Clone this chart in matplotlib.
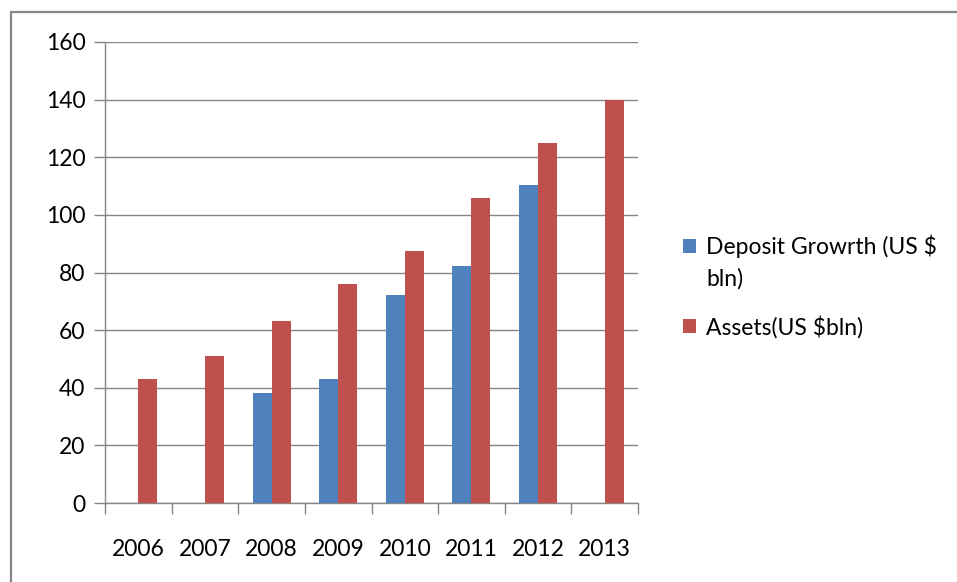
# Deposit growth vs assets bar chart (Excel style)

import numpy as np
import matplotlib.pyplot as plt
from matplotlib.patches import Rectangle

years = ['2006', '2007', '2008', '2009', '2010', '2011', '2012', '2013']
deposit = [np.nan, np.nan, 38.3, 43.1, 72.1, 82.4, 110.4, np.nan]
assets = [43.1, 51.1, 63.2, 76.0, 87.3, 105.9, 125.0, 140.0]
labels = ['Deposit Growrth (US $', 'Assets(US $bln)']
wrap = 'bln)'  # second line of the first legend label

plt.rcParams['font.family'] = ['Lato', 'DejaVu Sans']

fig = plt.figure(figsize=(9.57, 5.82), dpi=100)
ax = fig.add_axes([105/957, 1-503/582, (638-105)/957, (503-42)/582])

x = np.arange(len(years))
w = 1/3.5
ax.bar(x - w/2, deposit, width=w, color='#4F81BD', label=labels[0], zorder=3)
ax.bar(x + w/2, assets, width=w, color='#C0504D', label=labels[1], zorder=3)

ax.set_xlim(-0.5, len(years) - 0.5)
ax.set_ylim(0, 160)
ax.set_yticks(range(0, 161, 20))
ax.set_xticks(x)
ax.set_xticklabels(years)
ax.set_xticks(np.arange(-0.5, len(years)), minor=True)
ax.tick_params(axis='x', which='major', length=0, pad=26, labelsize=16.5, colors='#000000')
ax.tick_params(axis='x', which='minor', length=8, width=1, color='#868686', direction='out')
ax.tick_params(axis='y', length=8, width=1, color='#868686', direction='out', pad=6, labelsize=16.5)
ax.grid(axis='y', color='#868686', linewidth=1, zorder=0)
for s in ['top', 'right']:
    ax.spines[s].set_visible(False)
for s in ['left', 'bottom']:
    ax.spines[s].set_color('#868686')
    ax.spines[s].set_linewidth(1)

leg = fig.legend(loc='upper left', bbox_to_anchor=(672/957, 1-223/582), frameon=False,
                 fontsize=16.5, handlelength=0.55, handleheight=0.55, handletextpad=0.45,
                 labelspacing=2.5, borderpad=0)

# put the wrapped part of the first label under it
fig.canvas.draw()
bb = leg.get_texts()[0].get_window_extent().transformed(fig.transFigure.inverted())
fig.text(bb.x0, bb.y0 - 32/582, wrap, fontsize=16.5, va='bottom', ha='left')

# chart border
fig.add_artist(Rectangle((11/957, -0.1), 1.2, 1.1 - 12/582, transform=fig.transFigure,
                         fill=False, edgecolor='#878787', linewidth=1.6))

fig.savefig('out.png', dpi=100)
